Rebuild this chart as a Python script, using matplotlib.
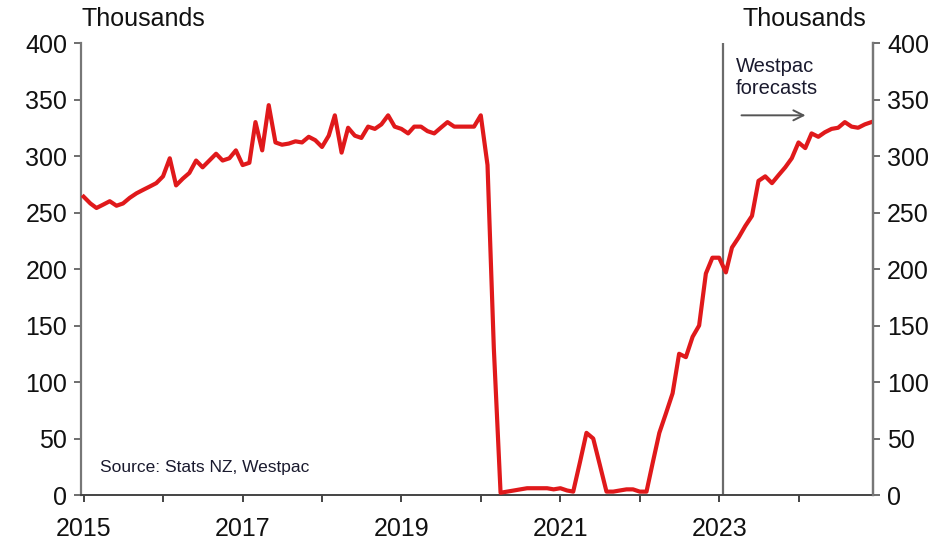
import numpy as np
import pandas as pd
import matplotlib

matplotlib.use('Agg')
import matplotlib.pyplot as plt
import matplotlib.dates as mdates

# monthly visitor arrivals (thousands), Jan 2015 - Dec 2024
start_month = '2015-01-01'
arrivals = [264, 258, 254, 257, 260, 256, 258, 263, 267, 270, 273, 276,
            282, 298, 274, 280, 285, 296, 290, 296, 302, 296, 298, 305,
            292, 294, 330, 305, 345, 312, 310, 311, 313, 312, 317, 314,
            308, 318, 336, 303, 325, 318, 316, 326, 324, 328, 336, 326,
            324, 320, 326, 326, 322, 320, 325, 330, 326, 326, 326, 326,
            336, 292, 130, 2, 3, 4, 5, 6, 6, 6, 6, 5,
            6, 4, 3, 29, 55, 50, 27, 3, 3, 4, 5, 5,
            3, 3, 28, 55, 72, 90, 125, 122, 140, 150, 196, 210,
            210, 197, 219, 228, 238, 247, 278, 282, 276, 283, 290, 298,
            312, 307, 320, 317, 321, 324, 325, 330, 326, 325, 328, 330]
forecast_start = '2023-01-20'
label_years = [2015, 2017, 2019, 2021, 2023]
minor_years = [2016, 2018, 2020, 2022, 2024]
y_ticks = [0, 50, 100, 150, 200, 250, 300, 350, 400]

dates = pd.date_range(start_month, periods=len(arrivals), freq='MS')

plt.rcParams['font.family'] = ['Liberation Sans', 'DejaVu Sans']

fig = plt.figure(figsize=(9.5, 5.41), dpi=100)
ax = fig.add_axes([0.0853, 0.085, 0.834, 0.8355])

ax.plot(dates, arrivals, color='#e0191b', lw=3.0, zorder=3)
ax.axvline(pd.Timestamp(forecast_start), color='#6b6b6b', lw=1.6, zorder=2)

ax.set_ylim(0, 400)
ax.set_xlim(pd.Timestamp('2014-12-20'), pd.Timestamp('2024-12-10'))
ax.set_yticks(y_ticks)
ax.set_xticks([pd.Timestamp(f'{y}-01-01') for y in label_years])
ax.set_xticks([pd.Timestamp(f'{y}-01-01') for y in minor_years], minor=True)
ax.xaxis.set_major_formatter(mdates.DateFormatter('%Y'))

ax.spines['top'].set_visible(False)
ax.spines['left'].set_color('#777777')
ax.spines['right'].set_color('#777777')
ax.spines['left'].set_linewidth(1.6)
ax.spines['right'].set_linewidth(1.6)
ax.spines['bottom'].set_color('#444444')
ax.spines['bottom'].set_linewidth(1.4)

ax.tick_params(axis='y', direction='out', length=5, width=1.2, color='#555555',
               labelsize=18, pad=5, labelcolor='#111111')
ax.tick_params(axis='x', which='both', direction='out', length=5, width=1.4,
               color='#444444', labelsize=18, pad=11, labelcolor='#111111')

ax2 = ax.twinx()
ax2.set_ylim(0, 400)
ax2.set_yticks(y_ticks)
ax2.spines['top'].set_visible(False)
ax2.spines['right'].set_color('#777777')
ax2.spines['right'].set_linewidth(1.6)
ax2.spines['left'].set_visible(False)
ax2.spines['bottom'].set_visible(False)
ax2.tick_params(axis='y', direction='out', length=5, width=1.2, color='#555555',
                labelsize=18, pad=5, labelcolor='#111111')

fig.text(0.086, 0.943, 'Thousands', fontsize=18, color='#111111', ha='left', va='bottom')
fig.text(0.912, 0.943, 'Thousands', fontsize=18, color='#111111', ha='right', va='bottom')

ax.text(0.024, 0.045, 'Source: Stats NZ, Westpac', transform=ax.transAxes,
        fontsize=12.5, color='#1a1a2e', ha='left', va='bottom')

ax.text(pd.Timestamp('2023-03-20'), 388, 'Westpac\nforecasts', fontsize=14.5,
        color='#1a1a2e', ha='left', va='top', linespacing=1.2)
ax.annotate('', xy=(pd.Timestamp('2024-02-15'), 336), xytext=(pd.Timestamp('2023-04-01'), 336),
            arrowprops=dict(arrowstyle='->', color='#555555', lw=1.4, mutation_scale=18))

fig.savefig('out.png', dpi=100)
